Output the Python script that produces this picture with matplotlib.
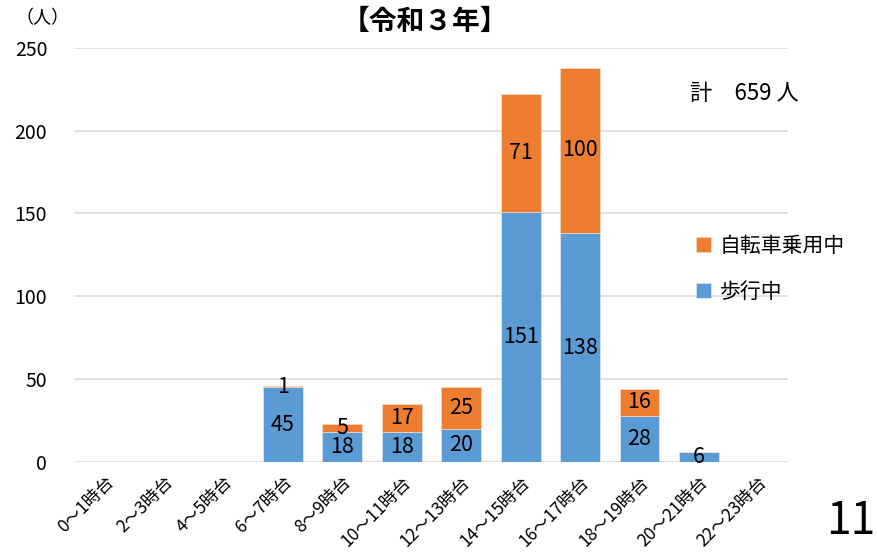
import matplotlib
matplotlib.use("Agg")
import matplotlib.pyplot as plt
import numpy as np

plt.rcParams["font.family"] = ["Noto Sans CJK JP", "DejaVu Sans"]

BLUE = "#5B9BD5"
ORANGE = "#ED7D31"
GRID = "#D9D9D9"

hours = ["0～1時台", "2～3時台", "4～5時台", "6～7時台", "8～9時台", "10～11時台",
         "12～13時台", "14～15時台", "16～17時台", "18～19時台", "20～21時台", "22～23時台"]
walking = [0, 0, 0, 45, 18, 18, 20, 151, 138, 28, 6, 0]
cycling = [0, 0, 0, 1, 5, 17, 25, 71, 100, 16, 0, 0]

fig = plt.figure(figsize=(8.77, 5.54), dpi=100)
ax = fig.add_axes([0.0855, 0.166, 0.813, 0.748])

x = np.arange(len(hours))
b1 = ax.bar(x, walking, width=0.67, color=BLUE, edgecolor="#E8F0F8", linewidth=0.4,
            label="歩行中", zorder=3)
b2 = ax.bar(x, cycling, width=0.67, bottom=walking, color=ORANGE, edgecolor="#FBE3D3",
            linewidth=0.4, label="自転車乗用中", zorder=3)

for bars, vals in ((b1, walking), (b2, cycling)):
    ax.bar_label(bars, labels=[str(v) if v else "" for v in vals],
                 label_type="center", fontsize=15.5, color="black", zorder=4)

ax.set_xlim(-0.5, len(hours) - 0.5)
ax.set_ylim(0, 250)
ax.set_yticks(range(0, 251, 50))
ax.set_xticks(x)
ax.set_xticklabels(hours, rotation=45, ha="right", rotation_mode="anchor")
ax.tick_params(axis="both", length=0)
ax.tick_params(axis="x", labelsize=12.5, pad=8)
ax.tick_params(axis="y", labelsize=14, pad=20)
ax.grid(axis="y", color=GRID, linewidth=1.2, zorder=0)
for s in ax.spines.values():
    s.set_visible(False)

handles, labels = ax.get_legend_handles_labels()
ax.legend(handles[::-1], labels[::-1], loc="upper left", bbox_to_anchor=(0.86, 0.568),
          frameon=False, fontsize=15, handlelength=0.7, handleheight=0.7,
          handletextpad=0.4, labelspacing=1.15, borderaxespad=0)

fig.text(0.485, 0.96, "【令和３年】", ha="center", va="center", fontsize=20,
         fontweight="bold")
fig.text(0.048, 0.968, "（人）", ha="center", va="center", fontsize=13)
fig.text(0.787, 0.832, "計　659 人", ha="left", va="center", fontsize=16)
fig.text(0.998, 0.06, "11", ha="right", va="center", fontsize=32)

fig.savefig("out.png", dpi=100)
